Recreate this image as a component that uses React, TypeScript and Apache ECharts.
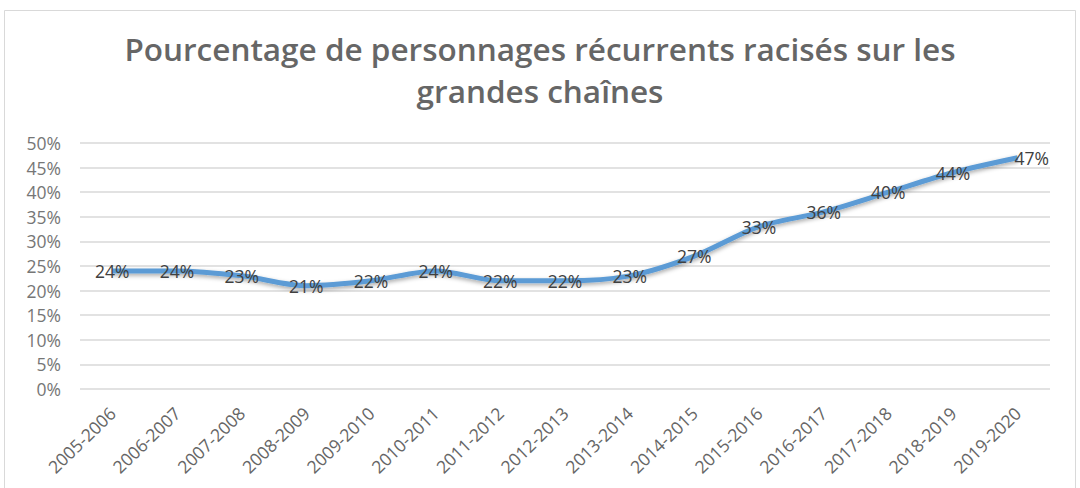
import React, { useEffect, useRef } from "react";
import * as echarts from "echarts";

const TITLE = "Pourcentage de personnages récurrents racisés sur les\ngrandes chaînes";
const categories = [
  "2005-2006", "2006-2007", "2007-2008", "2008-2009", "2009-2010",
  "2010-2011", "2011-2012", "2012-2013", "2013-2014", "2014-2015",
  "2015-2016", "2016-2017", "2017-2018", "2018-2019", "2019-2020",
];
const values = [24, 24, 23, 21, 22, 24, 22, 22, 23, 27, 33, 36, 40, 44, 47];
const yTicks = { min: 0, max: 50, interval: 5 };

export default function App() {
  const ref = useRef<HTMLDivElement>(null);
  useEffect(() => {
    document.body.style.margin = "0";
    const chart = echarts.init(ref.current!, undefined, { renderer: "svg" });
    const seriesData = values.map((v, i) =>
      i === values.length - 1 ? { value: v, label: { offset: [14, 0] } } : v
    );
    chart.setOption({
      animation: false,
      backgroundColor: "#ffffff",
      graphic: [
        {
          type: "rect",
          shape: { x: 4.5, y: 10.5, width: 1071, height: 490 },
          style: { fill: "none", stroke: "#d9d9d9", lineWidth: 1 },
          silent: true,
        },
      ],
      title: {
        text: TITLE,
        left: "center",
        top: 22,
        padding: [5, 0, 5, 28],
        textStyle: {
          fontFamily: "Open Sans",
          fontSize: 31.5,
          fontWeight: 600,
          color: "#666666",
          lineHeight: 42,
        },
      },
      grid: { left: 80, right: 30, top: 143, bottom: 99 },
      xAxis: {
        type: "category",
        data: categories,
        boundaryGap: true,
        axisLine: { show: false },
        axisTick: { show: false },
        axisLabel: {
          rotate: 44,
          interval: 0,
          margin: 21,
          color: "#666666",
          fontFamily: "Open Sans",
          fontSize: 17.5,
        },
      },
      yAxis: {
        type: "value",
        min: yTicks.min,
        max: yTicks.max,
        interval: yTicks.interval,
        axisLine: { show: false },
        axisTick: { show: false },
        axisLabel: {
          formatter: "{value}%",
          color: "#767676",
          fontFamily: "Open Sans",
          fontSize: 17.5,
          margin: 19,
        },
        splitLine: { lineStyle: { color: "#d9d9d9", width: 1.5 } },
      },
      series: [
        {
          type: "line",
          data: seriesData,
          smooth: 0.3,
          symbol: "circle",
          symbolSize: 1,
          showSymbol: true,
          itemStyle: { color: "rgba(0,0,0,0)" },
          lineStyle: {
            color: "#5b9bd5",
            width: 5,
            shadowColor: "rgba(0,0,0,0.35)",
            shadowBlur: 4,
            shadowOffsetY: 2,
          },
          label: {
            show: true,
            position: "inside",
            formatter: "{c}%",
            color: "#404040",
            fontFamily: "Open Sans",
            fontSize: 17.5,
          },
        },
      ],
    });
    return () => chart.dispose();
  }, []);
  return <div ref={ref} style={{ width: 1080, height: 488 }} />;
}
